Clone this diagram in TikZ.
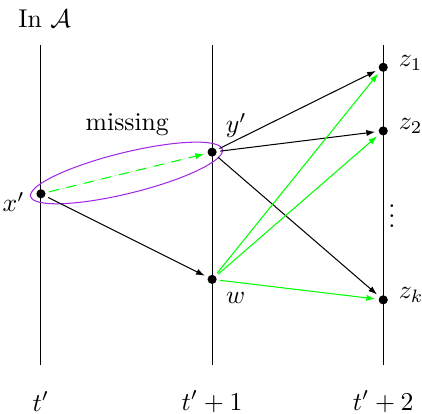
\documentclass[tikz,border=0pt]{standalone}
\usepackage{amsmath,amssymb}
\usepackage{tikz}
\usepackage{xcolor}
\usetikzlibrary{arrows.meta,calc,positioning}
\definecolor{setpurple}{RGB}{160,40,230}
\definecolor{newgreen}{RGB}{0,255,0}

\begin{document}
\begin{tikzpicture}[>={Latex[length=3.4pt,width=2.4pt]}]
\tikzset{pt/.style={circle,fill,inner sep=0pt,minimum size=1.25mm},
arr/.style={->,shorten >=1.2pt,shorten <=1.2pt},
garr/.style={arr,draw=newgreen,fill=newgreen},
zlab/.style={label distance=0.2mm,yshift=1.8pt}}
\useasboundingbox (-0.56,0) rectangle (5.21,-5.66);
% time lines
\foreach \i/\t in {0/t',1/t'+1,2/t'+2}{
\coordinate (top\i) at (2.34*\i,-0.62);
\coordinate (bot\i) at (2.34*\i,-4.99);
\draw (top\i)--(bot\i);
\node (t\i) at (2.34*\i,-5.49) {$\t$};
}
\node (in) at (0.05,-0.25) {In $\mathcal{A}$};
% states
\node[pt,label={[yshift=-3.3pt,label distance=0.3mm]left:$x'$}] (x) at (0,-2.65) {};
\node[pt,label={[label distance=0.3mm]50:$y'$}] (y) at (2.34,-2.08) {};
\node[pt,label={[label distance=0.2mm]-40:$w$}] (w) at (2.34,-3.82) {};
\node[pt,label={[zlab]right:$z_1$}] (z1) at (4.68,-0.92) {};
\node[pt,label={[zlab]right:$z_2$}] (z2) at (4.68,-1.79) {};
\node[pt,label={[zlab]right:$z_k$}] (zk) at (4.68,-4.10) {};
\node (dots) at (4.80,-2.85) {$\vdots$};
% missing pair
\draw[setpurple] ($(x)!0.5!(y)$) ellipse[x radius=1.35,y radius=0.28,rotate=13.8];
\node (miss) at (1.18,-1.71) {missing};
\draw[garr,dash pattern=on 4pt off 3pt] (x)--(y);
\draw[arr] (x)--(w);
\draw[arr] (y)--(z1);
\draw[arr] (y)--(z2);
\draw[arr] (y)--(zk);
\draw[garr] (w)--(z1);
\draw[garr] (w)--(z2);
\draw[garr] (w)--(zk);
\end{tikzpicture}
\end{document}
